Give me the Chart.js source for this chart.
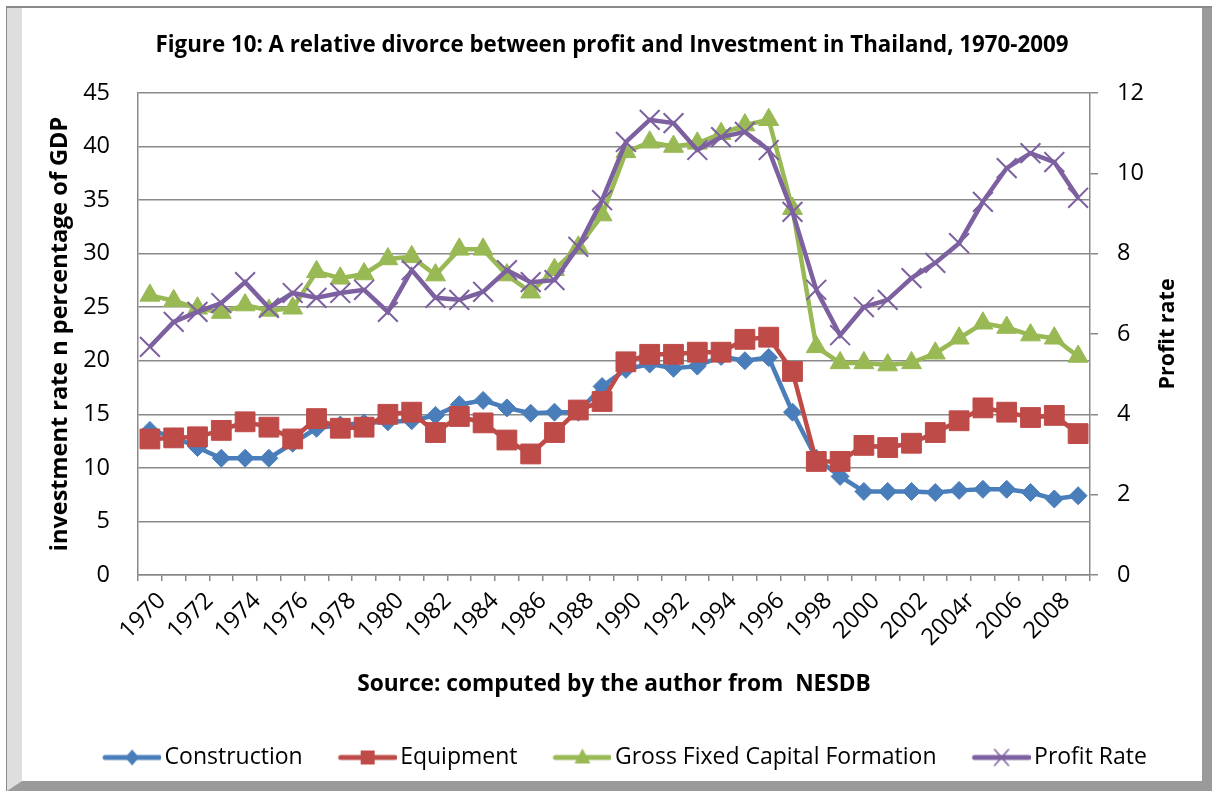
<!DOCTYPE html>
<html>
<head>
<meta charset="utf-8">
<script src="https://cdn.jsdelivr.net/npm/chart.js@4.4.1/dist/chart.umd.min.js"></script>
<style>
  body { margin: 0; background: #fff; }
  #outer {
    position: absolute; left: 6px; top: 6px; width: 1206px; height: 785px;
    box-sizing: border-box;
    border-left: 1px solid #8a8a8a; border-top: 2px solid #8a8a8a;
  }
  #inner {
    width: 100%; height: 100%; box-sizing: border-box; background: #fff;
    border-left: 15px solid #dedede; border-right: 10px solid #9a9a9a; border-bottom: 10px solid #9a9a9a;
  }
  canvas { display: block; }
</style>
</head>
<body>
<div id="outer"><div id="inner"><canvas id="divorceChart" width="1180" height="773"></canvas></div></div>
<script>
var years = ['1970', '1971', '1972', '1973', '1974', '1975', '1976', '1977', '1978', '1979',
  '1980', '1981', '1982', '1983', '1984', '1985', '1986', '1987', '1988', '1989',
  '1990', '1991', '1992', '1993', '1994', '1995', '1996', '1997', '1998', '1999',
  '2000', '2001', '2002', '2003', '2004r', '2005', '2006', '2007', '2008', '2009'];

// investment rates, % of GDP (left axis)
var construction = [13.5, 12.9, 11.9, 10.9, 10.9, 10.9, 12.3, 13.7, 14.0, 14.2,
  14.3, 14.4, 14.9, 15.9, 16.3, 15.6, 15.1, 15.2, 15.2, 17.6,
  19.2, 19.7, 19.3, 19.5, 20.4, 20.0, 20.3, 15.2, 10.9, 9.2,
  7.8, 7.8, 7.8, 7.7, 7.9, 8.0, 8.0, 7.7, 7.1, 7.4];
var equipment = [12.7, 12.8, 12.9, 13.5, 14.3, 13.8, 12.7, 14.6, 13.7, 13.8,
  15.0, 15.2, 13.3, 14.8, 14.2, 12.6, 11.3, 13.3, 15.4, 16.2,
  19.9, 20.6, 20.6, 20.8, 20.8, 22.0, 22.2, 19.0, 10.6, 10.6,
  12.1, 11.9, 12.3, 13.3, 14.4, 15.6, 15.2, 14.7, 14.9, 13.2];
var gfcf = [26.1, 25.6, 24.9, 24.5, 25.2, 24.7, 24.9, 28.3, 27.7, 28.1,
  29.5, 29.7, 28.0, 30.4, 30.4, 28.0, 26.4, 28.5, 30.6, 33.6,
  39.5, 40.4, 40.0, 40.3, 41.2, 42.0, 42.5, 34.2, 21.3, 19.8,
  19.8, 19.6, 19.8, 20.7, 22.1, 23.5, 23.1, 22.4, 22.1, 20.4];
// profit rate (right axis)
var profitRate = [5.68, 6.30, 6.55, 6.77, 7.29, 6.65, 7.02, 6.90, 7.02, 7.10,
  6.55, 7.59, 6.90, 6.85, 7.05, 7.59, 7.29, 7.34, 8.17, 9.33,
  10.78, 11.33, 11.25, 10.58, 10.90, 11.03, 10.58, 9.04, 7.10, 5.97,
  6.67, 6.85, 7.39, 7.77, 8.26, 9.29, 10.13, 10.50, 10.28, 9.39];

var FONT = '"Open Sans", sans-serif';
var GRID = '#898989';

// legend symbol: line with marker, like the spreadsheet legend
function makeIcon(color, shape) {
  var c = document.createElement('canvas');
  c.width = 92; c.height = 24;
  var g = c.getContext('2d');
  var cx = 63, cy = 12;
  g.strokeStyle = color; g.fillStyle = color;
  g.lineWidth = 5; g.lineCap = 'round';
  g.beginPath(); g.moveTo(36, cy); g.lineTo(90, cy); g.stroke();
  g.beginPath();
  if (shape === 'diamond') {
    g.moveTo(cx, cy - 8); g.lineTo(cx + 7, cy); g.lineTo(cx, cy + 8); g.lineTo(cx - 7, cy); g.closePath(); g.fill();
  } else if (shape === 'square') {
    g.rect(cx - 7, cy - 7, 14, 14); g.fill();
  } else if (shape === 'triangle') {
    g.moveTo(cx, cy - 9); g.lineTo(cx + 8, cy + 6); g.lineTo(cx - 8, cy + 6); g.closePath(); g.fill();
  } else {
    g.lineWidth = 1.5;
    g.moveTo(cx - 7, cy - 8); g.lineTo(cx + 7, cy + 8);
    g.moveTo(cx + 7, cy - 8); g.lineTo(cx - 7, cy + 8); g.stroke();
  }
  return c;
}
var icons = [makeIcon('#4A7EBB', 'diamond'), makeIcon('#BE4B48', 'square'),
  makeIcon('#98B954', 'triangle'), makeIcon('#7D60A0', 'cross')];

// right axis title reads bottom-to-top, so draw it here
var rightTitle = {
  id: 'rightTitle',
  afterDraw: function (chart) {
    var ctx = chart.ctx, a = chart.chartArea;
    ctx.save();
    ctx.translate(1146, (a.top + a.bottom) / 2);
    ctx.rotate(-Math.PI / 2);
    ctx.font = 'bold 21.5px ' + FONT;
    ctx.fillStyle = '#000';
    ctx.textAlign = 'center';
    ctx.textBaseline = 'middle';
    ctx.fillText('Profit rate', 0, 0);
    ctx.restore();
  }
};

var ctx = document.getElementById('divorceChart');
var chart = new Chart(ctx, {
  type: 'line',
  data: {
    labels: years,
    datasets: [{
      label: 'Construction',
      data: construction,
      yAxisID: 'y',
      borderColor: '#4A7EBB',
      backgroundColor: '#4A7EBB',
      borderWidth: 4.5,
      pointStyle: 'rectRot',
      pointRadius: 9,
      pointBorderWidth: 1,
      order: 4
    }, {
      label: 'Equipment',
      data: equipment,
      yAxisID: 'y',
      borderColor: '#BE4B48',
      backgroundColor: '#BE4B48',
      borderWidth: 4.5,
      pointStyle: 'rect',
      pointRadius: 14,
      pointBorderWidth: 1,
      order: 3
    }, {
      label: 'Gross Fixed Capital Formation',
      data: gfcf,
      yAxisID: 'y',
      borderColor: '#98B954',
      backgroundColor: '#98B954',
      borderWidth: 4.5,
      pointStyle: 'triangle',
      pointRadius: 11.5,
      pointBorderWidth: 1,
      order: 2
    }, {
      label: 'Profit Rate',
      data: profitRate,
      yAxisID: 'y1',
      borderColor: '#7D60A0',
      backgroundColor: '#7D60A0',
      borderWidth: 4.5,
      pointStyle: 'crossRot',
      pointRadius: 14,
      pointBorderWidth: 2,
      order: 1
    }]
  },
  options: {
    responsive: false,
    animation: false,
    devicePixelRatio: 1,
    layout: { padding: { top: 0, left: 0, right: 0, bottom: 2 } },
    plugins: {
      title: {
        display: true,
        text: 'Figure 10: A relative divorce between profit and Investment in Thailand, 1970-2009',
        color: '#000',
        font: { family: FONT, size: 22.3, weight: 'bold' },
        padding: { top: 24, bottom: 34.2 }
      },
      legend: {
        position: 'bottom',
        labels: {
          usePointStyle: true,
          pointStyleWidth: 76,
          padding: 10,
          color: '#000',
          font: { family: FONT, size: 23 },
          sort: function (a, b) { return a.datasetIndex - b.datasetIndex; },
          generateLabels: function (chart) {
            var items = Chart.defaults.plugins.legend.labels.generateLabels(chart);
            items.forEach(function (it) { it.pointStyle = icons[it.datasetIndex]; });
            return items;
          }
        }
      },
      tooltip: { enabled: false }
    },
    elements: { line: { tension: 0 } },
    scales: {
      x: {
        offset: true,
        grid: { offset: true, drawOnChartArea: false, tickLength: 6, color: GRID, lineWidth: 1.5 },
        border: { color: GRID, width: 1.5 },
        ticks: {
          autoSkip: false, minRotation: 45, maxRotation: 45,
          padding: 6, labelOffset: 12,
          color: '#000', font: { family: FONT, size: 23.5 },
          callback: function (v, i) { return i % 2 === 0 ? years[i] : ''; }
        },
        title: {
          display: true,
          text: 'Source: computed by the author from  NESDB',
          color: '#000',
          font: { family: FONT, size: 22.7, weight: 'bold' },
          padding: { top: 0, bottom: 38 }
        },
        afterFit: function (s) { s.height = 161; }
      },
      y: {
        position: 'left',
        min: 0, max: 45,
        ticks: { stepSize: 5, padding: 28, color: '#000', font: { family: FONT, size: 23.5 } },
        grid: { drawTicks: false, color: GRID, lineWidth: 1.5 },
        border: { color: GRID, width: 1.5 },
        title: {
          display: true,
          text: 'investment rate n percentage of GDP',
          color: '#000',
          font: { family: FONT, size: 23.5, weight: 'bold' },
          padding: { top: 24, bottom: 0 }
        },
        afterFit: function (s) { s.width = 116; }
      },
      y1: {
        position: 'right',
        min: 0, max: 12,
        ticks: { stepSize: 2, padding: 19, color: '#000', font: { family: FONT, size: 23.5 } },
        grid: { drawOnChartArea: false, tickLength: 8, color: GRID, lineWidth: 1.5 },
        border: { color: GRID, width: 1.5 },
        afterFit: function (s) { s.width = 112; }
      }
    }
  },
  plugins: [rightTitle]
});
</script>
</body>
</html>
